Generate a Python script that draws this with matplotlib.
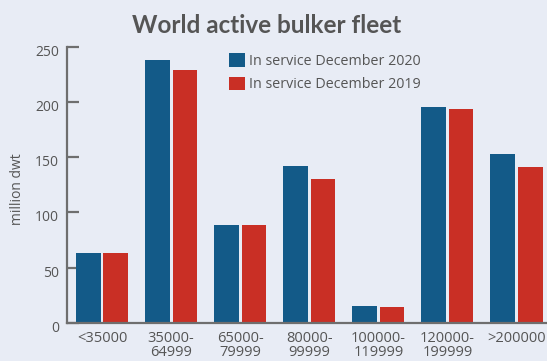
import matplotlib
matplotlib.use("Agg")
import matplotlib.pyplot as plt
import matplotlib.transforms as mtransforms
import numpy as np

categories = ["<35000", "35000-\n64999", "65000-\n79999", "80000-\n99999",
              "100000-\n119999", "120000-\n199999", ">200000"]
dec2020 = [63.3, 237.8, 88.6, 142.0, 15.4, 195.3, 152.8]
dec2019 = [63.3, 228.8, 88.6, 130.2, 14.5, 193.5, 141.0]
series_labels = ["In service December 2020", "In service December 2019"]
yticks = [0, 50, 100, 150, 200, 250]

BG = "#e8ecf5"
BLUE = "#135a88"
RED = "#c92f25"
TXT = "#555555"
AX = "#6e6e6e"

plt.rcParams["font.family"] = ["Open Sans", "DejaVu Sans"]

W, H = 547, 361
fig = plt.figure(figsize=(W / 100, H / 100), dpi=100, facecolor=BG)
ax = fig.add_axes([67 / W, 1 - 323 / H, (W - 67 + 2) / W, (323 - 46.5) / H])
ax.set_facecolor(BG)

x = np.arange(len(categories))
bw = 0.357
off = 0.199
ax.bar(x - off, dec2020, bw, color=BLUE, label=series_labels[0], zorder=2)
ax.bar(x + off, dec2019, bw, color=RED, label=series_labels[1], zorder=2)

ax.set_xlim(-0.507, (W + 2 - 102) / 69.08)
ax.set_ylim(0, 250)

for s in ["top", "right"]:
    ax.spines[s].set_visible(False)
for s in ["left", "bottom"]:
    ax.spines[s].set_color(AX)
    ax.spines[s].set_linewidth(1.6)

ax.set_yticks(yticks)
ax.set_yticklabels([str(v) for v in yticks])
ax.tick_params(axis="y", direction="in", length=8.5, width=1.6, color=AX,
               labelsize=10, labelcolor=TXT, pad=5.8)
ax.set_xticks(x)
ax.set_xticklabels(categories, linespacing=0.92)
ax.tick_params(axis="x", length=0, labelsize=10.5, labelcolor=TXT, pad=6)

shift = mtransforms.ScaledTranslation(0, -3.5 / 100, fig.dpi_scale_trans)
for lab in ax.get_yticklabels():
    lab.set_transform(lab.get_transform() + shift)

ax.set_ylabel("million dwt", fontsize=10, color=TXT)
ax.yaxis.set_label_coords(25 / W, 1 - 189 / H, transform=fig.transFigure)

fig.text(267 / W, 1 - 33 / H, "World active bulker fleet", ha="center",
         va="baseline", fontsize=17.5, fontweight="bold", color=TXT,
         family=["Lato", "Open Sans", "DejaVu Sans"])

leg = fig.legend(loc="upper left", bbox_to_anchor=(229 / W, 1 - 53 / H),
                 frameon=False, fontsize=10.3, handlelength=1.1,
                 handleheight=1.1, handletextpad=0.33, labelspacing=0.55,
                 borderpad=0, borderaxespad=0)
for t in leg.get_texts():
    t.set_color(TXT)

fig.savefig("out.png", dpi=100, facecolor=BG)
